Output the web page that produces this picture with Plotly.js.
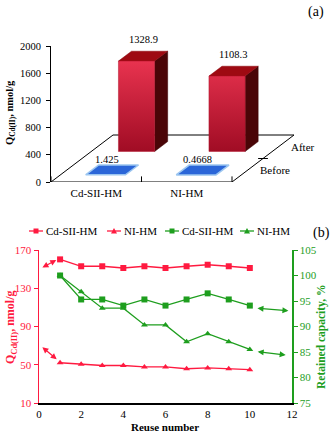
<!DOCTYPE html>
<html>
<head>
<meta charset="utf-8">
<script src="https://cdn.plot.ly/plotly-3.0.1.min.js"></script>
<style>
  body { margin: 0; background: #fff; }
  #chart { width: 331px; height: 432px; }
</style>
</head>
<body>
<div id="chart"></div>
<script>
// ---- data, panel (a)
const categories = ['Cd-SII-HM', 'NI-HM'];
const rowNames = ['Before', 'After'];
const qBefore = [1.425, 0.4668];
const qAfter = [1328.9, 1108.3];

// ---- data, panel (b)
const reuse = [1, 2, 3, 4, 5, 6, 7, 8, 9, 10];
const qCdSII = [160.2, 153.0, 153.0, 151.2, 153.0, 151.2, 153.0, 154.6, 153.0, 151.2];
const qNI = [52.1, 50.5, 49.2, 49.2, 47.7, 47.7, 45.8, 46.7, 45.8, 44.8];
const retCdSII = [100, 95.3, 95.3, 94.1, 95.3, 94.1, 95.3, 96.5, 95.3, 94.1];
const retNI = [100, 96.8, 93.6, 93.6, 90.3, 90.3, 87.0, 88.6, 87.0, 85.5];
// arrows that tie each curve to its axis: [x tail, y tail, x head, y head]
const arrowQCd = [0.09, 150.9, 0.82, 159.5];
const arrowQNI = [0.09, 69.6, 0.84, 55.7];
const arrowRetCd = [10.29, 93.6, 11.83, 93.1];
const arrowRetNI = [10.3, 85.1, 11.7, 84.4];

const W = 331, H = 432;
const SERIF = 'Liberation Serif, Times New Roman, serif';
const RED = '#ff1a40', GREEN = '#1e9e1e';

// oblique projection used to fake the 3D floor (depth 0 = front, 1 = back)
const DX = 0.685, DY = 691;
function proj(u, d, h){
    return [u + d*DX, h + d*DY];
}
const depthBefore = [0.15, 0.36];
const depthAfter = [0.65, 0.86];

function box(i, depth, v, hw){
    let c = i + 0.5, x0 = c - hw, x1 = c + hw;
    return {
        front: [proj(x0,depth[0],0), proj(x1,depth[0],0), proj(x1,depth[0],v), proj(x0,depth[0],v)],
        top: [proj(x0,depth[0],v), proj(x1,depth[0],v), proj(x1,depth[1],v), proj(x0,depth[1],v)],
        side: [proj(x1,depth[0],0), proj(x1,depth[1],0), proj(x1,depth[1],v), proj(x1,depth[0],v)]
    };
}

function polyTrace(polys, fill, line, lw){
    let x = [], y = [];
    polys.forEach(p => {
        p.forEach(pt => { x.push(pt[0]); y.push(pt[1]); });
        x.push(p[0][0]); y.push(p[0][1]);
        x.push(null); y.push(null);
    });
    return {
        x: x, y: y, xaxis: 'x', yaxis: 'y',
        mode: 'lines', fill: 'toself', fillcolor: fill,
        line: {color: line || fill, width: lw === undefined ? 0.5 : lw},
        hoverinfo: 'skip', showlegend: false
    };
}

let n = categories.length;
let data = [];

// floor
data.push(polyTrace([[proj(0,0,0), proj(n,0,0), proj(n,1,0), proj(0,1,0)]], '#ffffff', '#000000', 1));

// back row (after) then front row (before)
let afterBoxes = qAfter.map((v, i) => box(i, depthAfter, v, 0.2));
let beforeBoxes = qBefore.map((v, i) => box(i, depthBefore, v, 0.22));

data.push(polyTrace(afterBoxes.map(b => b.side), '#4a0507', '#3a0003'));
data.push(polyTrace(afterBoxes.map(b => b.top), '#9e0a12', '#8a060c'));
let fronts = polyTrace(afterBoxes.map(b => b.front), '#d01c38', '#b3142c');
fronts.fillgradient = {type: 'vertical', colorscale: [[0, '#a00c24'], [1, '#e8334f']]};
data.push(fronts);
data.push(polyTrace(beforeBoxes.map(b => b.top), '#2b66d8', '#9cc6f0', 1.5));

// category dividers on the front edge and the depth tick
let divX = [], divY = [];
for (let i = 0; i <= n; i++) { divX.push(i); divY.push(0); }
data.push({x: divX, y: divY, xaxis: 'x', yaxis: 'y', mode: 'markers',
    marker: {symbol: 'line-ns', size: 8, line: {color: '#000', width: 1}},
    hoverinfo: 'skip', showlegend: false});
let dt = proj(n, 0.5, 0);
data.push({x: [dt[0]], y: [dt[1]], xaxis: 'x', yaxis: 'y', mode: 'markers',
    marker: {symbol: 'line-ew', size: 7, line: {color: '#000', width: 1}},
    hoverinfo: 'skip', showlegend: false});

// panel (b) series
data.push({x: reuse, y: qCdSII, xaxis: 'x2', yaxis: 'y2', mode: 'lines+markers', name: 'Cd-SII-HM',
    line: {color: RED, width: 1.3}, marker: {symbol: 'square', size: 6, color: RED}, showlegend: false});
data.push({x: reuse, y: qNI, xaxis: 'x2', yaxis: 'y2', mode: 'lines+markers', name: 'NI-HM',
    line: {color: RED, width: 1.3}, marker: {symbol: 'triangle-up', size: 6, color: RED}, showlegend: false});
data.push({x: reuse, y: retCdSII, xaxis: 'x2', yaxis: 'y3', mode: 'lines+markers', name: 'Cd-SII-HM',
    line: {color: GREEN, width: 1.3}, marker: {symbol: 'square', size: 6, color: GREEN}, showlegend: false});
data.push({x: reuse, y: retNI, xaxis: 'x2', yaxis: 'y3', mode: 'lines+markers', name: 'NI-HM',
    line: {color: GREEN, width: 1.3}, marker: {symbol: 'triangle-up', size: 6, color: GREEN}, showlegend: false});

// ---- annotations
let ann = [];
function txt(x, y, text, opts){
    return Object.assign({xref: 'paper', yref: 'paper', x: x / W, y: 1 - y / H, text: text,
        xanchor: 'center', yanchor: 'middle',
        showarrow: false, font: {family: SERIF, size: 11, color: '#000'}}, opts || {});
}
ann.push(txt(316, 12, '(a)', {font: {family: SERIF, size: 14, color: '#000'}}));
ann.push(txt(321, 233, '(b)', {font: {family: SERIF, size: 14, color: '#000'}}));
ann.push(txt(10, 113, '<b>Q<sub>Cd(II)</sub>, nmol/g</b>', {textangle: -90, font: {family: SERIF, size: 10.5, color: '#000'}}));
ann.push(txt(11, 327, '<b>Q<sub>Cd(II)</sub>, nmol/g</b>', {textangle: -90, font: {family: SERIF, size: 12, color: RED}}));
ann.push(txt(321, 337, '<b>Retained capacity, %</b>', {textangle: -90, font: {family: SERIF, size: 11.5, color: GREEN}}));
ann.push(txt(165, 427, '<b>Reuse number</b>', {font: {family: SERIF, size: 11, color: '#000'}}));

// bar value labels
qAfter.forEach((v, i) => {
    let p = proj(i + 0.5, (depthAfter[0] + depthAfter[1]) / 2, v);
    ann.push({xref: 'x', yref: 'y', x: p[0], y: p[1], yshift: 17, text: String(v), showarrow: false,
        xanchor: 'center', yanchor: 'middle', font: {family: SERIF, size: 10.5, color: '#000'}});
});
qBefore.forEach((v, i) => {
    let p = proj(i + 0.5, (depthBefore[0] + depthBefore[1]) / 2, v);
    ann.push({xref: 'x', yref: 'y', x: p[0], y: p[1], yshift: 10, xshift: -5, text: String(v), showarrow: false,
        xanchor: 'center', yanchor: 'middle', font: {family: SERIF, size: 10.5, color: '#000'}});
});
// row labels along the depth edge
[depthBefore, depthAfter].forEach((d, k) => {
    let p = proj(n, (d[0] + d[1]) / 2, 0);
    ann.push({xref: 'x', yref: 'y', x: p[0], y: p[1], xanchor: 'left', yanchor: 'middle', xshift: 10,
        text: rowNames[k], showarrow: false, font: {family: SERIF, size: 11, color: '#000'}});
});

// axis arrows in panel (b)
function arrow(a, yref, color){
    return {xref: 'x2', yref: yref, axref: 'x2', ayref: yref, x: a[2], y: a[3], ax: a[0], ay: a[1],
        text: '', showarrow: true, arrowhead: 2, arrowside: 'end+start', arrowsize: 1,
        arrowwidth: 1.2, arrowcolor: color};
}
ann.push(arrow(arrowQCd, 'y2', RED));
ann.push(arrow(arrowQNI, 'y2', RED));
ann.push(arrow(arrowRetCd, 'y3', GREEN));
ann.push(arrow(arrowRetNI, 'y3', GREEN));

// hand made legend (plotly's own is too wide for this strip)
let shapes = [];
const legendItems = [
    {x: 29, color: RED, sym: 'square', text: 'Cd-SII-HM'},
    {x: 107, color: RED, sym: 'triangle', text: 'NI-HM'},
    {x: 165, color: GREEN, sym: 'square', text: 'Cd-SII-HM'},
    {x: 240, color: GREEN, sym: 'triangle', text: 'NI-HM'}
];
const legY = 231;
function px(x){ return x / W; }
function py(y){ return 1 - y / H; }
legendItems.forEach(it => {
    shapes.push({type: 'line', xref: 'paper', yref: 'paper', x0: px(it.x), x1: px(it.x + 14),
        y0: py(legY), y1: py(legY), line: {color: it.color, width: 1.3}});
    let cx = it.x + 7;
    if (it.sym == 'square') {
        shapes.push({type: 'rect', xref: 'paper', yref: 'paper', x0: px(cx - 2.5), x1: px(cx + 2.5),
            y0: py(legY + 2.5), y1: py(legY - 2.5), fillcolor: it.color, line: {width: 0}});
    } else {
        shapes.push({type: 'path', xref: 'paper', yref: 'paper',
            path: 'M' + px(cx - 3) + ',' + py(legY + 2.5) + ' L' + px(cx + 3) + ',' + py(legY + 2.5) +
                  ' L' + px(cx) + ',' + py(legY - 3) + ' Z',
            fillcolor: it.color, line: {width: 0}});
    }
    ann.push(txt(it.x + 15, legY, it.text, {xanchor: 'left'}));
});

let layout = {
    width: W, height: H,
    margin: {l: 0, r: 0, t: 0, b: 0},
    paper_bgcolor: '#fff', plot_bgcolor: 'rgba(0,0,0,0)',
    showlegend: false,
    font: {family: SERIF, size: 11, color: '#000'},
    xaxis: {domain: [51 / W, 295 / W], range: [0, 2.696], anchor: 'y',
        tickvals: categories.map((c, i) => i + 0.5), ticktext: categories, ticks: '',
        showline: false, showgrid: false, zeroline: false, ticklabelstandoff: 3,
        tickfont: {family: SERIF, size: 11, color: '#000'}, fixedrange: true},
    yaxis: {domain: [1 - 182 / H, 1 - 46 / H], range: [0, 2000], dtick: 400, anchor: 'x',
        showline: true, linecolor: '#000', linewidth: 1, ticks: 'outside', ticklen: 4,
        tickcolor: '#000', showgrid: false, zeroline: false, ticklabelstandoff: 3,
        tickfont: {family: SERIF, size: 10.5, color: '#000'}},
    xaxis2: {domain: [39 / W, 292 / W], range: [0, 12], dtick: 2, anchor: 'y2',
        showline: true, linecolor: '#000', linewidth: 1.5, ticks: '', showgrid: false, zeroline: false,
        tickfont: {family: SERIF, size: 11, color: '#000'}},
    yaxis2: {domain: [1 - 403 / H, 1 - 250 / H], range: [10, 170], tickvals: [10, 50, 90, 130, 170], anchor: 'x2',
        showline: true, linecolor: RED, linewidth: 1.5, ticks: 'outside', ticklen: 4, tickcolor: RED,
        showgrid: false, zeroline: false, tickfont: {family: SERIF, size: 11, color: RED}},
    yaxis3: {overlaying: 'y2', side: 'right', anchor: 'x2', range: [75, 105], dtick: 5,
        showline: true, linecolor: GREEN, linewidth: 1.5, ticks: 'outside', ticklen: 4, tickcolor: GREEN,
        showgrid: false, zeroline: false, tickfont: {family: SERIF, size: 11, color: GREEN}},
    annotations: ann,
    shapes: shapes
};

Plotly.newPlot('chart', data, layout, {displayModeBar: false, staticPlot: true});
</script>
</body>
</html>
